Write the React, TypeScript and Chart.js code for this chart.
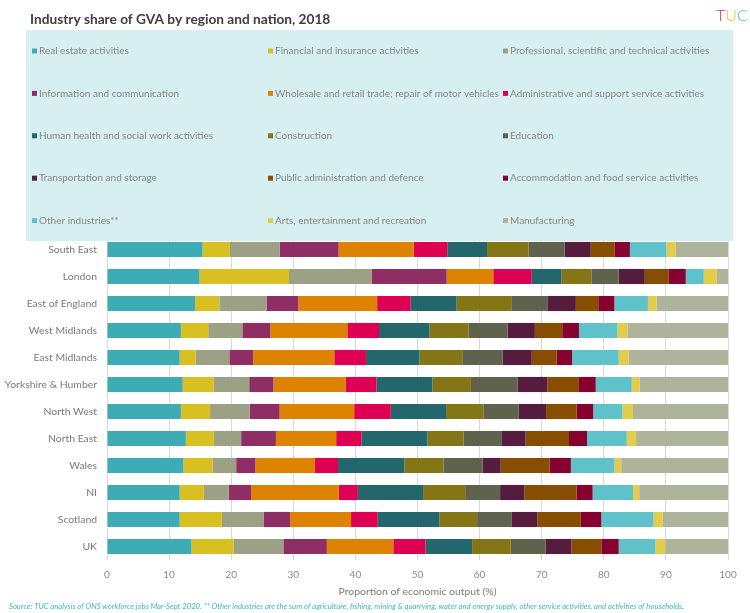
import { useEffect, useRef } from "react";
import { Chart, registerables } from "chart.js";

Chart.register(...registerables);

const chartTitle = "Industry share of GVA by region and nation, 2018";
const axisTitle = "Proportion of economic output (%)";
const sourceNote =
  "Source: TUC analysis of ONS workforce jobs Mar-Sept 2020. ** Other industries are the sum of agriculture, fishing, mining & quarrying, water and energy supply, other service activities, and activities of households";

const regions = [
  "South East",
  "London",
  "East of England",
  "West Midlands",
  "East Midlands",
  "Yorkshire & Humber",
  "North West",
  "North East",
  "Wales",
  "NI",
  "Scotland",
  "UK",
];

const industries = [
  "Real estate activities",
  "Financial and insurance activities",
  "Professional, scientific and technical activities",
  "Information and communication",
  "Wholesale and retail trade; repair of motor vehicles",
  "Administrative and support service activities",
  "Human health and social work activities",
  "Construction",
  "Education",
  "Transportation and storage",
  "Public administration and defence",
  "Accommodation and food service activities",
  "Other industries**",
  "Arts, entertainment and recreation",
  "Manufacturing",
];

const industryColours = [
  "#3eacb5",
  "#d8bf22",
  "#9ca085",
  "#8e2e65",
  "#de8300",
  "#de0052",
  "#23666c",
  "#847517",
  "#5f624c",
  "#551c3e",
  "#874d01",
  "#860030",
  "#5fc1c9",
  "#e3cc4a",
  "#aeb39c",
];

// Share of GVA (%) per region, in the order of `regions`
const realEstate = [15.4, 14.9, 14.2, 11.9, 11.7, 12.2, 11.9, 12.7, 12.3, 11.7, 11.7, 13.6];
const financial = [4.4, 14.4, 3.9, 4.4, 2.6, 5.0, 4.7, 4.5, 4.7, 3.9, 6.8, 6.8];
const professional = [8.0, 13.3, 7.6, 5.5, 5.4, 5.7, 6.4, 4.4, 3.8, 4.0, 6.7, 8.0];
const information = [9.5, 12.1, 5.1, 4.5, 3.8, 3.9, 4.8, 5.6, 3.1, 3.6, 4.3, 7.0];
const wholesale = [12.1, 7.5, 12.7, 12.4, 13.1, 11.6, 12.0, 9.7, 9.6, 14.1, 9.8, 10.7];
const administrative = [5.4, 6.2, 5.4, 5.1, 5.1, 5.0, 5.9, 4.1, 3.7, 3.1, 4.3, 5.2];
const health = [6.4, 4.8, 7.4, 8.1, 8.6, 9.0, 8.9, 10.6, 10.7, 10.5, 9.9, 7.5];
const construction = [6.7, 4.8, 8.9, 6.3, 6.9, 6.2, 6.0, 5.8, 6.3, 6.9, 6.1, 6.2];
const education = [5.8, 4.4, 5.7, 6.3, 6.5, 7.5, 5.7, 6.2, 6.3, 5.5, 5.6, 5.6];
const transport = [4.2, 4.2, 4.6, 4.4, 4.7, 4.8, 4.4, 3.8, 2.9, 3.9, 4.1, 4.2];
const publicAdmin = [3.8, 3.8, 3.6, 4.4, 4.0, 5.1, 4.9, 7.0, 7.9, 8.4, 7.0, 4.8];
const accommodation = [2.5, 2.8, 2.6, 2.7, 2.5, 2.7, 2.7, 2.9, 3.4, 2.6, 3.3, 2.8];
const otherIndustries = [5.9, 2.9, 5.4, 6.2, 7.5, 5.8, 4.7, 6.4, 7.0, 6.5, 8.4, 5.9];
const arts = [1.5, 2.1, 1.4, 1.6, 1.6, 1.3, 1.7, 1.5, 1.1, 1.0, 1.5, 1.6];
const manufacturing = [8.4, 1.8, 11.5, 16.2, 16.0, 14.2, 15.3, 14.8, 17.2, 14.3, 10.5, 10.1];

const seriesValues = [
  realEstate,
  financial,
  professional,
  information,
  wholesale,
  administrative,
  health,
  construction,
  education,
  transport,
  publicAdmin,
  accommodation,
  otherIndustries,
  arts,
  manufacturing,
];

const xTicks = [0, 10, 20, 30, 40, 50, 60, 70, 80, 90, 100];

const FONT = "Lato, 'Open Sans', sans-serif";

// Title, logo, three-column legend panel and source line
const decorPlugin = {
  id: "decor",
  afterDraw(chart: any) {
    const ctx: CanvasRenderingContext2D = chart.ctx;
    ctx.save();
    ctx.textBaseline = "middle";
    ctx.textAlign = "left";

    ctx.font = `bold 13.7px ${FONT}`;
    ctx.fillStyle = "#404040";
    ctx.fillText(chartTitle, 30, 20);

    // TUC logo letters
    ctx.font = `300 16px ${FONT}`;
    const logo: [string, string][] = [
      ["T", "#e2215f"],
      ["U", "#e3c22b"],
      ["C", "#4cc0c9"],
    ];
    let lx = 716;
    logo.forEach(([ch, col]) => {
      ctx.fillStyle = col;
      ctx.fillText(ch, lx, 16);
      lx += ctx.measureText(ch).width;
    });

    // legend panel
    ctx.fillStyle = "#d7eff1";
    ctx.fillRect(26, 30, 707, 211);
    const colX = [32, 268, 503];
    ctx.font = `10px ${FONT}`;
    chart.data.datasets.forEach((ds: any, i: number) => {
      const x = colX[i % 3];
      const y = 51 + Math.floor(i / 3) * 42.4;
      ctx.fillStyle = ds.backgroundColor;
      ctx.fillRect(x, y - 2.5, 5, 5);
      ctx.fillStyle = "#878787";
      ctx.fillText(ds.label, x + 7, y);
    });

    // source note
    ctx.font = `italic 7.7px ${FONT}`;
    ctx.fillStyle = "#3fb6c0";
    ctx.fillText(sourceNote, 9, 607);
    const w = ctx.measureText(sourceNote).width;
    ctx.fillStyle = "#404040";
    ctx.fillText(".", 9 + w, 607);

    ctx.restore();
  },
};

export default function App() {
  const canvasRef = useRef<HTMLCanvasElement | null>(null);

  useEffect(() => {
    if (!canvasRef.current) return;
    const chart = new Chart(canvasRef.current, {
      type: "bar",
      data: {
        labels: regions,
        datasets: industries.map((name, i) => ({
          label: name,
          data: seriesValues[i],
          backgroundColor: industryColours[i],
          borderWidth: 0,
          barPercentage: 0.56,
          categoryPercentage: 1,
        })),
      },
      options: {
        indexAxis: "y",
        responsive: false,
        animation: false,
        layout: { padding: { top: 236, right: 22, bottom: 0, left: 0 } },
        plugins: {
          legend: { display: false },
          title: { display: false },
          tooltip: { enabled: false },
        },
        scales: {
          x: {
            stacked: true,
            min: 0,
            max: 100,
            afterBuildTicks: (scale: any) => {
              scale.ticks = xTicks.map((v) => ({ value: v }));
            },
            afterFit: (scale: any) => {
              scale.height = 53;
            },
            grid: { color: "#d9d9d9", lineWidth: 1, drawTicks: false },
            border: { display: false },
            ticks: {
              padding: 9,
              color: "#8c8c8c",
              font: { family: FONT, size: 10 },
            },
            title: {
              display: true,
              text: axisTitle,
              color: "#7a7a7a",
              font: { family: FONT, size: 10.4 },
              padding: { top: 0, bottom: 15.5 },
            },
          },
          y: {
            stacked: true,
            afterFit: (scale: any) => {
              scale.width = 107;
            },
            grid: { display: false, drawTicks: false },
            border: { display: false },
            ticks: {
              padding: 10,
              color: "#7a7a7a",
              font: { family: FONT, size: 10.4 },
            },
          },
        },
      },
      plugins: [decorPlugin],
    });
    return () => chart.destroy();
  }, []);

  return (
    <div style={{ position: "fixed", left: 0, top: 0, width: 750, height: 613, background: "#ffffff" }}>
      <canvas ref={canvasRef} width={750} height={613} />
    </div>
  );
}
